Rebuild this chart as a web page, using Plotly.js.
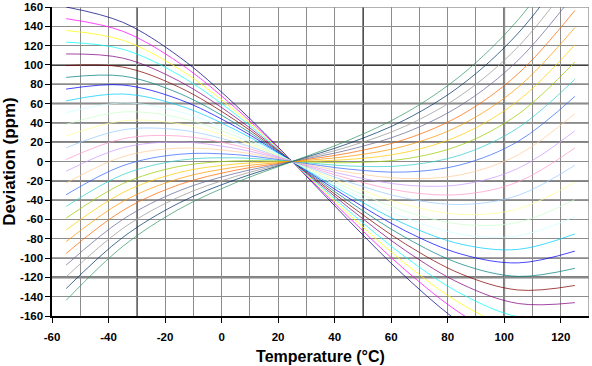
<!DOCTYPE html>
<html>
<head>
<meta charset="utf-8">
<script src="https://cdn.plot.ly/plotly-3.0.1.min.js"></script>
<style>
  html, body { margin: 0; padding: 0; background: #ffffff; }
  #chart { width: 592px; height: 366px; }
</style>
</head>
<body>
<div id="chart"></div>
<script>
// Temperatures (°C) at which each curve was read
const temps = [-55, -35, -15, 5, 25, 45, 65, 85, 105, 125];

// Frequency deviation (ppm) of each curve (top-left to bottom-left order)
const dev01 = [160.0, 144.2, 108.4, 58.4, 0, -61.1, -119.2, -168.4, -203.1, -217.4];
const dev02 = [147.9, 134.9, 102.1, 55.2, 0, -57.8, -112.4, -158.1, -189.1, -199.6];
const dev03 = [135.7, 125.6, 95.8, 52.0, 0, -54.5, -105.7, -147.8, -175.1, -181.8];
const dev04 = [123.6, 116.3, 89.5, 48.8, 0, -51.2, -98.9, -137.4, -161.1, -164.0];
const dev05 = [111.4, 107.1, 83.2, 45.6, 0, -47.8, -92.1, -127.1, -147.1, -146.2];
const dev06 = [99.3, 97.8, 76.9, 42.4, 0, -44.5, -85.3, -116.8, -133.1, -128.4];
const dev07 = [87.1, 88.5, 70.6, 39.2, 0, -41.2, -78.6, -106.5, -119.0, -110.6];
const dev08 = [75.0, 79.2, 64.3, 36.0, 0, -37.8, -71.8, -96.1, -105.0, -92.8];
const dev09 = [62.8, 69.9, 58.0, 32.7, 0, -34.5, -65.0, -85.8, -91.0, -75.0];
const dev10 = [50.7, 60.6, 51.7, 29.5, 0, -31.2, -58.3, -75.5, -77.0, -57.2];
const dev11 = [38.5, 51.3, 45.4, 26.3, 0, -27.9, -51.5, -65.1, -63.0, -39.4];
const dev12 = [26.4, 42.0, 39.1, 23.1, 0, -24.5, -44.7, -54.8, -49.0, -21.6];
const dev13 = [14.2, 32.8, 32.8, 19.9, 0, -21.2, -37.9, -44.5, -35.0, -3.8];
const dev14 = [2.1, 23.5, 26.4, 16.7, 0, -17.9, -31.2, -34.1, -21.0, 14.0];
const dev15 = [-10.1, 14.2, 20.1, 13.5, 0, -14.5, -24.4, -23.8, -7.0, 31.8];
const dev16 = [-22.3, 4.9, 13.8, 10.3, 0, -11.2, -17.6, -13.5, 7.0, 49.6];
const dev17 = [-34.4, -4.4, 7.5, 7.1, 0, -7.9, -10.9, -3.1, 21.0, 67.4];
const dev18 = [-46.6, -13.7, 1.2, 3.8, 0, -4.6, -4.1, 7.2, 35.1, 85.2];
const dev19 = [-58.7, -23.0, -5.1, 0.6, 0, -1.2, 2.7, 17.5, 49.1, 103.0];
const dev20 = [-70.9, -32.3, -11.4, -2.6, 0, 2.1, 9.5, 27.9, 63.1, 120.8];
const dev21 = [-83.0, -41.5, -17.7, -5.8, 0, 5.4, 16.2, 38.2, 77.1, 138.6];
const dev22 = [-95.2, -50.8, -24.0, -9.0, 0, 8.8, 23.0, 48.5, 91.1, 156.4];
const dev23 = [-107.3, -60.1, -30.3, -12.2, 0, 12.1, 29.8, 58.9, 105.1, 174.2];
const dev24 = [-119.5, -69.4, -36.6, -15.4, 0, 15.4, 36.6, 69.2, 119.1, 192.0];
const dev25 = [-131.6, -78.7, -42.9, -18.7, 0, 18.7, 43.3, 79.5, 133.1, 209.8];
const dev26 = [-143.8, -88.0, -49.3, -21.9, 0, 22.1, 50.1, 89.9, 147.1, 227.6];

// Axis tick labels
const xTicks = [-60, -40, -20, 0, 20, 40, 60, 80, 100, 120];
const yTicks = [-160, -140, -120, -100, -80, -60, -40, -20, 0, 20, 40, 60, 80, 100, 120, 140, 160];

const series = [dev01, dev02, dev03, dev04, dev05, dev06, dev07, dev08, dev09, dev10,
                dev11, dev12, dev13, dev14, dev15, dev16, dev17, dev18, dev19, dev20,
                dev21, dev22, dev23, dev24, dev25, dev26];

const colors = ['#000080', '#FF00FF', '#FFFF00', '#00FFFF', '#800080', '#800000', '#008080', '#0000FF',
                '#00CCFF', '#CCFFFF', '#CCFFCC', '#FFFF99', '#99CCFF', '#FF99CC', '#CC99FF', '#FFCC99',
                '#3366FF', '#33CCCC', '#99CC00', '#FFCC00', '#FF9900', '#FF6600', '#666699', '#969696',
                '#003366', '#339966'];

const traces = series.map((ys, i) => ({
  x: temps,
  y: ys,
  type: 'scatter',
  mode: 'lines',
  opacity: 0.72,
  line: { color: colors[i], width: 1, shape: 'spline', smoothing: 1 },
  hoverinfo: 'skip',
  showlegend: false
}));

const font = { family: 'Liberation Sans, Arial, sans-serif', color: '#000000' };

function hline(y, color, width) {
  return { type: 'line', xref: 'paper', x0: 0, x1: 1, yref: 'y', y0: y, y1: y, layer: 'below',
           line: { color: color, width: width } };
}
function vline(x, color, width) {
  return { type: 'line', yref: 'paper', y0: 0, y1: 1, xref: 'x', x0: x, x1: x, layer: 'below',
           line: { color: color, width: width } };
}

const shapes = [
  hline(100, '#000000', 1.6), hline(60, '#000000', 1.6), hline(20, '#000000', 1.6),
  hline(-20, '#000000', 1.6), hline(-120, '#000000', 1.6),
  hline(80, '#555555', 1.4), hline(40, '#777777', 1.6), hline(-40, '#777777', 1.6), hline(-100, '#888888', 1.8),
  vline(-30, '#000000', 1.6), vline(50, '#000000', 1.6), vline(100, '#444444', 1.8),
  hline(160, '#999999', 1.5), vline(130, '#999999', 1.5)
];

const layout = {
  width: 592,
  height: 366,
  margin: { l: 52, r: 3, t: 7, b: 50, pad: 0 },
  paper_bgcolor: '#ffffff',
  plot_bgcolor: '#ffffff',
  showlegend: false,
  xaxis: {
    range: [-60, 130],
    tickmode: 'array',
    tickvals: xTicks,
    ticktext: xTicks.map(String),
    ticks: 'outside', ticklen: 5, tickwidth: 1, tickcolor: '#000000',
    ticklabelstandoff: 5,
    showgrid: true, gridcolor: '#8c8c8c', gridwidth: 1,
    minor: { dtick: 10, tick0: -60, showgrid: true, gridcolor: '#8c8c8c', gridwidth: 1, ticks: '' },
    zeroline: false,
    showline: true, linecolor: '#000000', linewidth: 1.6,
    tickfont: Object.assign({ size: 11.5, weight: 'bold' }, font),
    title: { text: 'Temperature (°C)', font: Object.assign({ size: 16, weight: 'bold' }, font), standoff: 8 },
    fixedrange: true
  },
  yaxis: {
    range: [-160, 160],
    tickmode: 'array',
    tickvals: yTicks,
    ticktext: yTicks.map(String),
    ticks: 'outside', ticklen: 5, tickwidth: 1, tickcolor: '#000000',
    showgrid: true, gridcolor: '#8c8c8c', gridwidth: 1,
    zeroline: false,
    showline: true, linecolor: '#000000', linewidth: 1.6,
    tickfont: Object.assign({ size: 11.5, weight: 'bold' }, font),
    title: { text: 'Deviation (ppm)', font: Object.assign({ size: 17, weight: 'bold' }, font), standoff: 6 },
    fixedrange: true
  },
  shapes: shapes
};

Plotly.newPlot('chart', traces, layout, { displayModeBar: false, staticPlot: true });
</script>
</body>
</html>
